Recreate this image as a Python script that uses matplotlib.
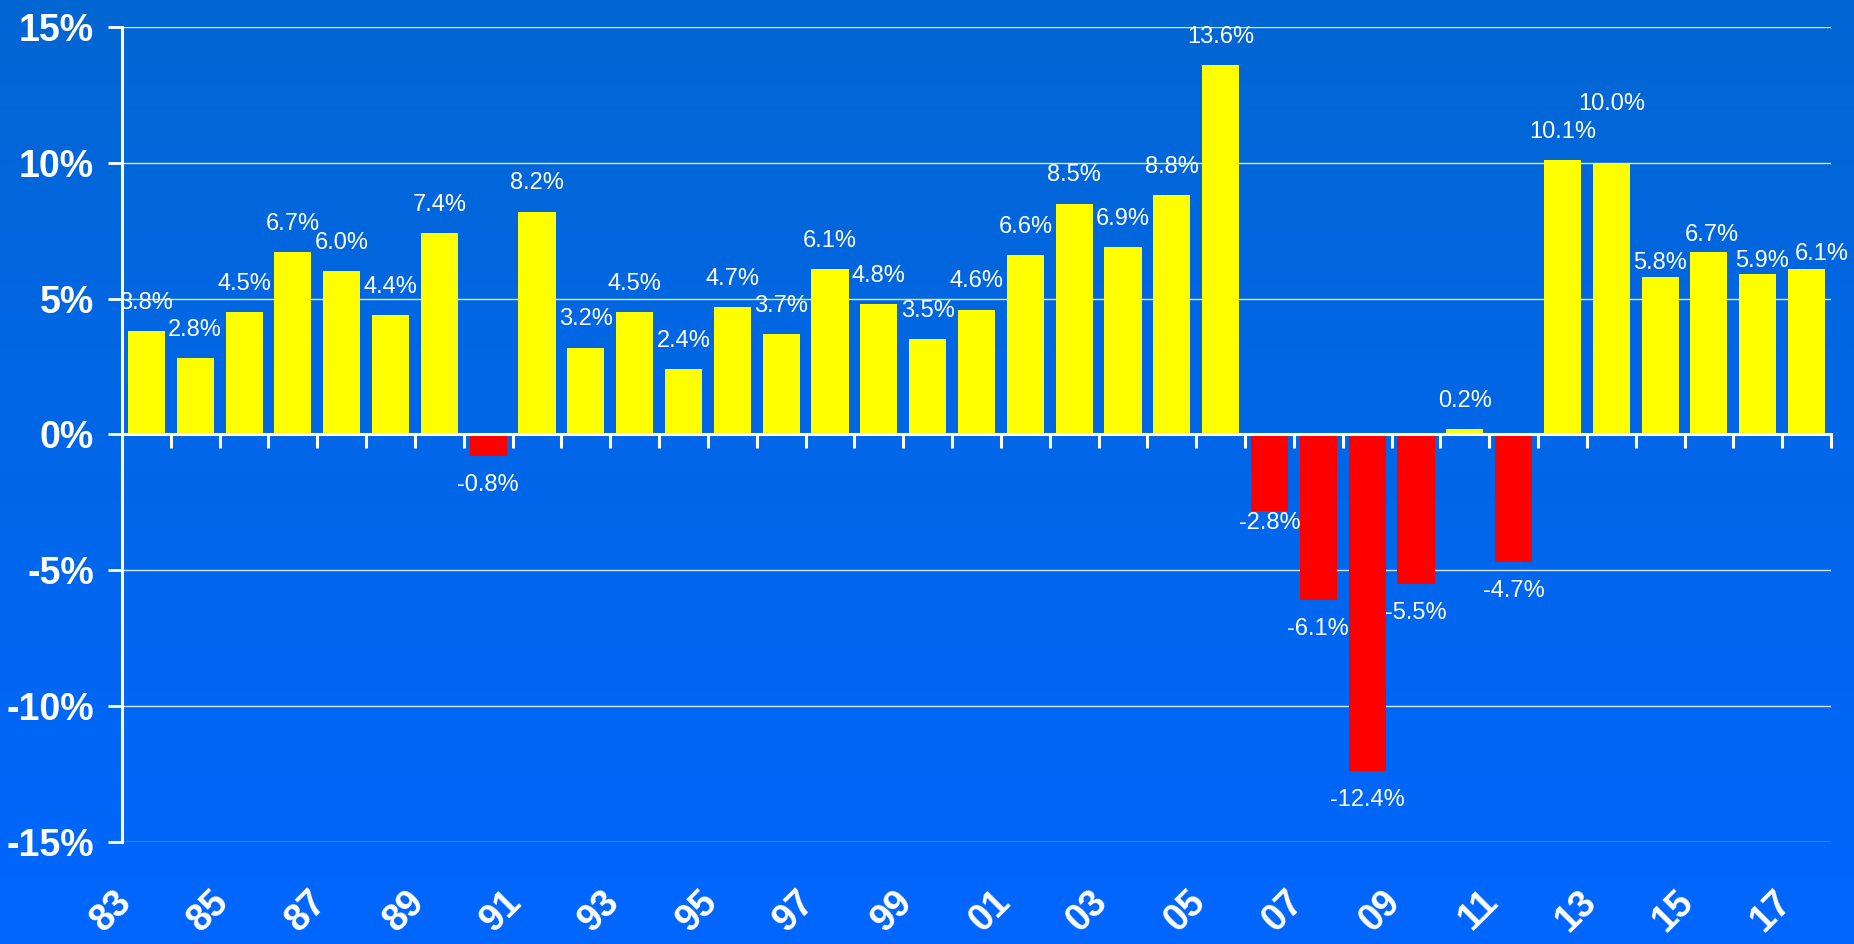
import matplotlib
matplotlib.use("Agg")
import matplotlib.pyplot as plt
import matplotlib.transforms as mtransforms
import numpy as np

plt.rcParams['font.family'] = ['Liberation Sans', 'DejaVu Sans']

# datos: crecimiento anual 1983-2017
years = list(range(1983, 2018))
growth = [3.8, 2.8, 4.5, 6.7, 6.0, 4.4, 7.4, -0.8, 8.2, 3.2,
          4.5, 2.4, 4.7, 3.7, 6.1, 4.8, 3.5, 4.6, 6.6, 8.5,
          6.9, 8.8, 13.6, -2.8, -6.1, -12.4, -5.5, 0.2, -4.7, 10.1,
          10.0, 5.8, 6.7, 5.9, 6.1]
year_labels = ["%02d" % (y % 100) for y in years]
y_ticks = [-15, -10, -5, 0, 5, 10, 15]
y_tick_labels = ["%d%%" % t for t in y_ticks]

# ajustes de etiquetas que se corren (en puntos)
label_nudge = {2013: (0, 22), 2006: (0, 12), 2014: (0, -10), 2015: (2, -8),
               2016: (3, -11), 2017: (11, -10)}

fig = plt.figure(figsize=(18.54, 9.44), dpi=100)

# fondo degradado
bg = fig.add_axes([0, 0, 1, 1], zorder=0)
top = np.array([0x02, 0x66, 0xD2]) / 255
bot = np.array([0x00, 0x66, 0xFF]) / 255
t = np.linspace(0, 1, 256)[:, None]
grad = top[None, :] * (1 - t) + bot[None, :] * t
bg.imshow(grad[:, None, :], aspect='auto', extent=[0, 1, 0, 1])
bg.axis('off')

ax = fig.add_axes([0.0658, 0.1081, 0.9218, 0.8633], zorder=1)
ax.set_facecolor('none')

x = np.arange(len(years))
colors = ['#FFFF00' if v >= 0 else '#FF0000' for v in growth]
ax.bar(x, growth, width=0.76, color=colors, zorder=3)

for i, v in enumerate(growth):
    dx, dy = label_nudge.get(years[i], (0, 0))
    if v >= 0:
        ax.annotate("%.1f%%" % v, (x[i], v), xytext=(dx, 16 + dy), textcoords='offset points',
                    ha='center', va='baseline', color='white', fontsize=17, zorder=5)
    else:
        ax.annotate("%.1f%%" % v, (x[i], v), xytext=(dx, -13 + dy), textcoords='offset points',
                    ha='center', va='top', color='white', fontsize=17, zorder=5)

ax.set_xlim(-0.5, len(years) - 0.5)
ax.set_ylim(-15, 15)
ax.set_yticks(y_ticks)
ax.set_yticklabels(y_tick_labels, fontsize=27, fontweight='bold', color='white')
ax.tick_params(axis='y', direction='out', length=10, width=2, color='white', pad=10)
ax.yaxis.grid(True, color='white', lw=1, alpha=0.85, zorder=1)
ax.set_axisbelow(True)

for s in ['top', 'right']:
    ax.spines[s].set_visible(False)
ax.spines['left'].set_color('white')
ax.spines['left'].set_linewidth(2.2)
ax.spines['bottom'].set_position(('data', 0))
ax.spines['bottom'].set_color('white')
ax.spines['bottom'].set_linewidth(2.2)
ax.spines['bottom'].set_zorder(4)
ax.set_xticks(x + 0.5)
ax.set_xticklabels([])
ax.tick_params(axis='x', direction='out', length=10, width=2.2, color='white')

# etiquetas de anos abajo
sec = ax.secondary_xaxis(0.0)
sec.spines['bottom'].set_visible(False)
sec.set_xticks(x[::2])
sec.set_xticklabels(year_labels[::2], rotation=45, ha='right', va='top',
                    rotation_mode='anchor', fontsize=27, fontweight='bold', color='white')
sec.tick_params(axis='x', length=0, pad=30)
offset = mtransforms.ScaledTranslation(-24 / 72, 0, fig.dpi_scale_trans)
for lab in sec.get_xticklabels():
    lab.set_transform(lab.get_transform() + offset)

fig.savefig('out.png', dpi=100)
